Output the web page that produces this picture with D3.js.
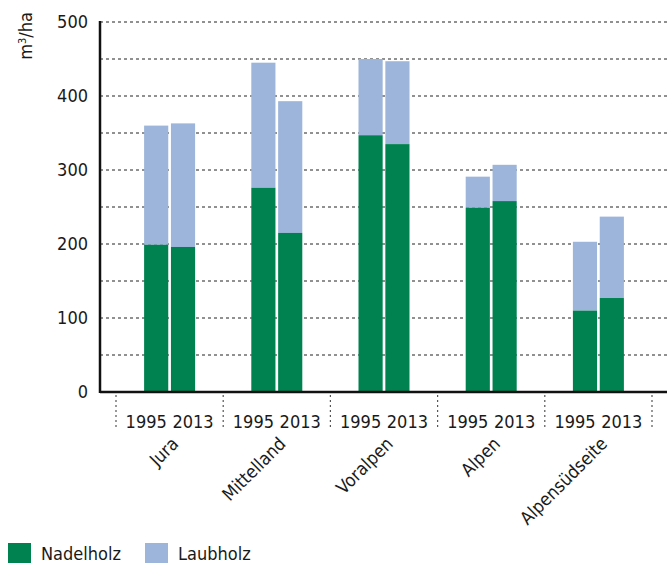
<!DOCTYPE html>
<html>
<head>
<meta charset="utf-8">
<script src="https://cdn.jsdelivr.net/npm/d3@7"></script>
<style>
  body { margin: 0; background: #fff; }
  svg text { font-family: "DejaVu Sans Condensed", "DejaVu Sans", sans-serif; font-stretch: condensed; fill: #1a1a1a; }
</style>
</head>
<body>
<svg id="chart" width="667" height="563"></svg>
<script>
var regions = ["Jura", "Mittelland", "Voralpen", "Alpen", "Alpensüdseite"]
var years = ["1995", "2013"]
// m3/ha, per region: [1995, 2013]
var nadelholz = [[199, 196], [276, 215], [347, 335], [249, 258], [110, 127]]
var laubholz = [[161, 167], [169, 178], [103, 112], [42, 49], [93, 110]]
var yTicks = [0, 100, 200, 300, 400, 500]
var gridValues = [50, 100, 150, 200, 250, 300, 350, 400, 450, 500]
var seriesNames = ["Nadelholz", "Laubholz"]
var colors = ["#008250", "#9db5da"]

var svg = d3.select("#chart")
var axisX = 100, zeroY = 392, topY = 22

var y = d3.scaleLinear().domain([0, 500]).range([zeroY, topY])
var x = d3.scaleBand().domain(regions).range([116, 652])
var xi = d3.scaleBand().domain(years).range([-25.5, 25.5]).paddingInner(0.1)

// gridlines
svg.append("g").selectAll("line").data(gridValues).enter()
	.append("line")
	.attr("x1", axisX).attr("x2", 667)
	.attr("y1", function(d) { return y(d) }).attr("y2", function(d) { return y(d) })
	.attr("stroke", "#222").attr("stroke-width", 1)
	.attr("stroke-dasharray", "3,3")

// bars
var rows = []
regions.forEach(function(r, i) {
	years.forEach(function(yr, j) {
		rows.push({ region: r, year: yr, n: nadelholz[i][j], l: laubholz[i][j] })
	})
})

var bar = svg.append("g").selectAll("g").data(rows).enter().append("g")
	.attr("transform", function(d) { return "translate(" + (x(d.region) + x.bandwidth() / 2 + xi(d.year)) + ",0)" })

bar.append("rect")
	.attr("x", 0).attr("width", xi.bandwidth())
	.attr("y", function(d) { return y(d.n + d.l) })
	.attr("height", function(d) { return y(d.n) - y(d.n + d.l) })
	.attr("fill", colors[1])

bar.append("rect")
	.attr("x", 0).attr("width", xi.bandwidth())
	.attr("y", function(d) { return y(d.n) })
	.attr("height", function(d) { return zeroY - y(d.n) })
	.attr("fill", colors[0])

// year labels
bar.append("text")
	.attr("x", xi.bandwidth() / 2)
	.attr("dx", function(d) { return d.year == "1995" ? -10 : 10 })
	.attr("y", 428)
	.attr("text-anchor", "middle")
	.attr("font-size", 18)
	.text(function(d) { return d.year })

// group separators
var seps = regions.map(function(r) { return x(r) }).concat([x.range()[1]])
svg.append("g").selectAll("line").data(seps).enter()
	.append("line")
	.attr("x1", function(d) { return d }).attr("x2", function(d) { return d })
	.attr("y1", zeroY + 3).attr("y2", 428)
	.attr("stroke", "#555").attr("stroke-width", 1.2)
	.attr("stroke-dasharray", "2,3")

// region labels
svg.append("g").selectAll("text").data(regions).enter()
	.append("text")
	.attr("transform", function(d) { return "translate(" + (x(d) + x.bandwidth() / 2 + 10) + ",445) rotate(-45)" })
	.attr("text-anchor", "end")
	.attr("font-size", 18)
	.text(function(d) { return d })

// axes
svg.append("line")
	.attr("x1", axisX).attr("x2", axisX).attr("y1", topY - 1).attr("y2", zeroY + 1)
	.attr("stroke", "#111").attr("stroke-width", 2.5)
svg.append("line")
	.attr("x1", axisX).attr("x2", 667).attr("y1", zeroY).attr("y2", zeroY)
	.attr("stroke", "#111").attr("stroke-width", 2.5)

svg.append("g").selectAll("text").data(yTicks).enter()
	.append("text")
	.attr("x", 88)
	.attr("y", function(d) { return y(d) + 6 })
	.attr("text-anchor", "end")
	.attr("font-size", 18)
	.text(function(d) { return d })

var yl = svg.append("text")
	.attr("transform", "translate(32,36) rotate(-90)")
	.attr("text-anchor", "middle")
	.attr("font-size", 18)
yl.append("tspan").text("m")
yl.append("tspan").attr("baseline-shift", "super").attr("font-size", 11).text("3")
yl.append("tspan").text("/ha")

// legend
var legend = svg.append("g").selectAll("g").data(seriesNames).enter().append("g")
	.attr("transform", function(d, i) { return "translate(" + (8 + i * 137) + ",543)" })
legend.append("rect").attr("width", 23).attr("height", 22)
	.attr("fill", function(d, i) { return colors[i] })
legend.append("text").attr("x", 33).attr("y", 17)
	.attr("font-size", 18)
	.text(function(d) { return d })
</script>
</body>
</html>
